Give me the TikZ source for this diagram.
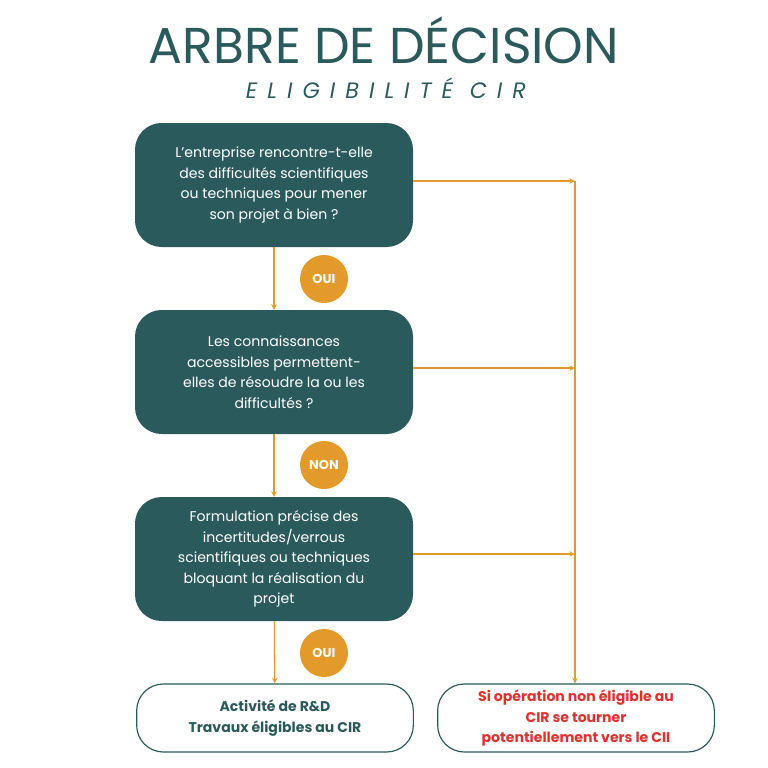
\documentclass[tikz,border=0pt]{standalone}
\usepackage{fontspec}
\setmainfont{Poppins}
\newfontfamily\spaced[LetterSpace=45]{Poppins}
\usetikzlibrary{positioning}
\definecolor{teal}{HTML}{2B5A5C}
\definecolor{gold}{HTML}{E39A2A}
\definecolor{alert}{HTML}{E0312E}
\begin{document}
\begin{tikzpicture}[
    x=0.3mm, y=-0.3mm,
    question/.style={rectangle, fill=teal, text=white, align=center, rounded corners=8mm, minimum width=83.4mm, minimum height=37.2mm, font=\fontsize{12}{17.5}\selectfont},
    result/.style={rectangle, draw=teal, line width=1pt, fill=white, align=center, rounded corners=8mm, minimum width=83mm, minimum height=20.4mm, font=\fontsize{12}{17.5}\selectfont\bfseries},
    answer/.style={circle, fill=gold, text=white, minimum size=14.4mm, inner sep=0pt, font=\fontsize{11}{13}\selectfont\bfseries},
    arrow/.style={->, >=stealth, draw=gold, line width=1.1pt}
]
\useasboundingbox (0,0) rectangle (768,768);
\fill[white] (0,0) rectangle (768,768);

\node[text=teal, font=\fontsize{43}{48}\selectfont] (title) at (384,40) {ARBRE DE DÉCISION};
\node[text=teal, font=\fontsize{19}{22}\selectfont\spaced\itshape] (subtitle) at (386,88) {ELIGIBILITÉ CIR};

\node[question] (q1) at (274,185) {L'entreprise rencontre-t-elle\\des difficultés scientifiques\\ou techniques pour mener\\son projet à bien ?};
\node[question] (q2) at (274,372) {Les connaissances\\accessibles permettent-\\elles de résoudre la ou les\\difficultés ?};
\node[question] (q3) at (274,559) {Formulation précise des\\incertitudes/verrous\\scientifiques ou techniques\\bloquant la réalisation du\\projet};
\node[result, text=teal] (rd) at (275,718) {Activité de R\&D\\Travaux éligibles au CIR};
\node[result, text=alert] (cii) at (576,718) {Si opération non éligible au\\CIR se tourner\\potentiellement vers le CII};

\node[answer] (a1) at (324,279) {OUI};
\node[answer] (a2) at (324,465) {NON};
\node[answer] (a3) at (324,653) {OUI};

\draw[arrow] (q1) -- (q2);
\draw[arrow] (q2) -- (q3);
\draw[arrow] (q3) -- (rd);

\coordinate (j1) at (575,181);
\coordinate (j2) at (575,368);
\coordinate (j3) at (575,554);
\draw[arrow] (q1.east |- j1) -- (j1);
\draw[arrow] (q2.east |- j2) -- (j2);
\draw[arrow] (q3.east |- j3) -- (j3);
\draw[arrow] (j1) -- (j1 |- cii.north);

\end{tikzpicture}
\end{document}
